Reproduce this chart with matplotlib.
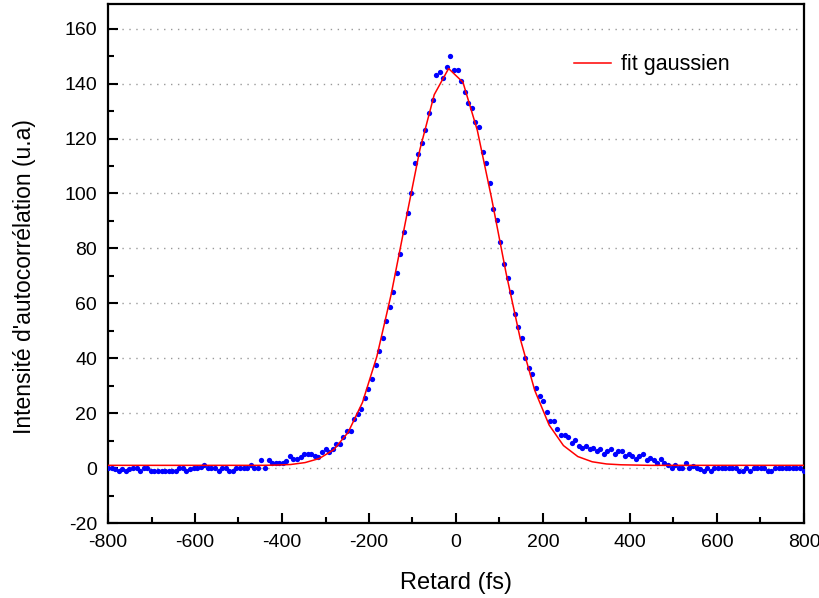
import numpy as np
import matplotlib
matplotlib.use("Agg")
import matplotlib.pyplot as plt
from matplotlib.ticker import MultipleLocator

plt.rcParams['font.family'] = ['Liberation Sans', 'DejaVu Sans']
plt.rcParams['axes.unicode_minus'] = False

# delay grid of the measurement (fs), one point every ~8.2 fs
step = 8.2
n_points = 196
retard = -800 + step * np.arange(n_points)

intensite = [
    0, 0, -0.5, -1, -0.3, -1, -0.5, 0, 0, -1,
    0, 0, -1, -1, -1, -1, -1, -1, -1, -1,
    0, 0, -1, -0.5, 0, 0, 0.5, 1, 0, 0,
    0, -1, 0, 0, -1, -1, 0, 0, 0, 0,
    1, 0, 0, 3, 0, 3, 1.7, 1.7, 2, 2,
    2.5, 4.4, 3.2, 3.2, 4, 5, 5, 5, 4.4, 3.9,
    5.9, 6.9, 5.9, 6.9, 8.7, 8.7, 11.2, 13.6, 13.6, 17.7,
    19.8, 21.6, 25.6, 28.7, 32.5, 37.6, 42.6, 47.5, 53.6, 58.5,
    64, 71, 78, 86, 93, 100.3, 111.2, 114.3, 118.3, 123.1,
    129.2, 134, 143.2, 144.1, 142.2, 146, 150.1, 145.1, 145.1, 141.1,
    137.1, 133.1, 131, 126.2, 124.3, 115.1, 111.2, 103.8, 94.3, 90.2,
    82.3, 74.4, 69.2, 64.2, 56.2, 51.2, 47.3, 40.2, 36.3, 34.4,
    29.2, 26.2, 24.3, 20.3, 17.2, 17.2, 14.3, 12.2, 12.2, 11.2,
    9.2, 10.1, 8, 7.4, 8, 7, 7.4, 6.2, 6.8, 5,
    6.2, 7, 5, 6.2, 6.2, 4.4, 5, 4.4, 3.2, 4.4,
    5, 2.9, 3.5, 2.9, 1.7, 3.2, 1.7, 1.1, 0.2, 1.1,
    -0.1, -0.1, 2, -0.1, 0.7, -0.1, -0.5, -1.1, -0.1, -1.1,
    0, 0, 0, 0, 0, 0, 0, -1, -1, 0,
    -1, 0, 0, 0, 0, -1, -1, 0, 0, 0,
    0, 0, 0, 0, 0, -1,
]

# gaussian fit, as drawn (coarser sampling)
retard_fit = [-809, -776, -743, -710, -677, -644, -611, -578, -545, -512,
              -479, -446, -413, -380, -347, -314, -281, -248, -215, -182,
              -149, -116, -83, -50, -17, 16, 49, 82, 115, 148,
              181, 214, 247, 280, 313, 346, 379, 412, 445, 478,
              511, 544, 577, 610, 643, 676, 709, 742, 775, 808]
intensite_fit = [1, 1, 1, 1, 1, 1, 1, 1, 1, 1,
                 1, 1, 1.1, 1.3, 2.0, 3.5, 6.7, 13.0, 23.9, 40.6,
                 63.3, 89.8, 116.0, 136.0, 145.5, 140.5, 123.0, 98.1, 71.1, 46.9,
                 28.3, 15.7, 8.2, 4.2, 2.3, 1.5, 1.2, 1.1, 1, 1,
                 1, 1, 1, 1, 1, 1, 1, 1, 1, 1]

fig = plt.figure(figsize=(8.2, 5.98), dpi=100)
ax = fig.add_axes([108 / 820, 75 / 598, 696 / 820, 519 / 598])

ax.plot(retard, intensite, 'o', color='#0000ff', markersize=3.8,
        markeredgewidth=0, zorder=3)
ax.plot(retard_fit, intensite_fit, '-', color='#ff0000', linewidth=1.1,
        label='fit gaussien', zorder=4)

ax.set_xlim(-800, 800)
ax.set_ylim(-20, 169)
ax.xaxis.set_major_locator(MultipleLocator(200))
ax.xaxis.set_minor_locator(MultipleLocator(100))
ax.yaxis.set_major_locator(MultipleLocator(20))
ax.yaxis.set_minor_locator(MultipleLocator(10))

for y in range(0, 161, 20):
    ax.axhline(y, color='#999999', linewidth=1.0, linestyle=(0, (1, 4)),
               zorder=1)

ax.tick_params(which='both', direction='in', top=False, right=False,
               labelsize=14, width=1.5)
ax.tick_params(which='major', length=7, pad=8)
ax.tick_params(which='minor', length=4)
for s in ax.spines.values():
    s.set_linewidth(1.6)

ax.set_xlabel('Retard (fs)', fontsize=17)
ax.set_ylabel("Intensité d'autocorrélation (u.a)", fontsize=16.5)
ax.xaxis.set_label_coords(0.5, -0.095)
ax.yaxis.set_label_coords(-0.104, 0.474)

ax.legend(loc='center left', bbox_to_anchor=(0.6695, 0.8825), frameon=False,
          fontsize=15.5, handlelength=1.7, handletextpad=0.5, borderpad=0,
          borderaxespad=0)

fig.savefig('out.png', dpi=100)
